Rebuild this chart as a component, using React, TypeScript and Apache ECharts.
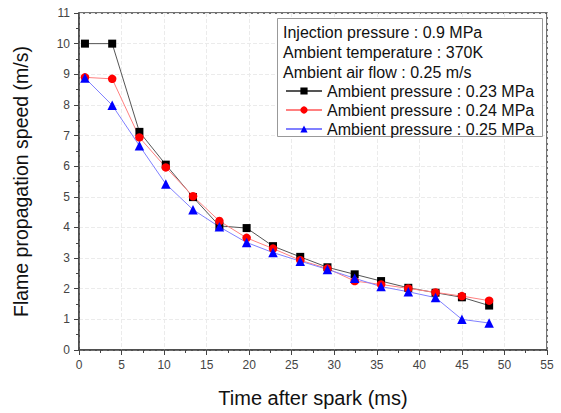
import React, { useEffect, useRef } from "react";
import * as echarts from "echarts";

const timeMs = [0.7, 3.9, 7.1, 10.2, 13.4, 16.5, 19.7, 22.8, 26.0, 29.2, 32.4, 35.5, 38.7, 41.9, 45.0, 48.2];
const speed023 = [10.0, 10.0, 7.12, 6.05, 4.99, 4.05, 3.98, 3.39, 3.04, 2.7, 2.47, 2.25, 2.03, 1.87, 1.72, 1.45];
const speed024 = [8.9, 8.85, 6.94, 5.96, 5.02, 4.21, 3.66, 3.31, 2.93, 2.66, 2.25, 2.14, 2.01, 1.88, 1.76, 1.61];
const speed025 = [8.88, 7.99, 6.67, 5.42, 4.58, 4.02, 3.51, 3.18, 2.9, 2.63, 2.34, 2.07, 1.9, 1.71, 1.0, 0.88];
const seriesNames = ["Ambient pressure : 0.23 MPa", "Ambient pressure : 0.24 MPa", "Ambient pressure : 0.25 MPa"];
const infoLines = ["Injection pressure : 0.9 MPa", "Ambient temperature : 370K", "Ambient air flow : 0.25 m/s"];

const FONT = "'Liberation Sans', Arial, sans-serif";

export default function App() {
  const ref = useRef<HTMLDivElement>(null);
  useEffect(() => {
    if (!ref.current) return;
    const chart = echarts.init(ref.current, undefined, { renderer: "svg" });
    const pair = (ys: number[]) => timeMs.map((x, i) => [x, ys[i]]);
    const mk = (name: string, ys: number[], symbol: string, size: number, mColor: string, lColor: string) => ({
      name,
      type: "line",
      data: pair(ys),
      symbol,
      symbolSize: size,
      showSymbol: true,
      itemStyle: { color: mColor },
      lineStyle: { color: lColor, width: 1 },
      z: 2,
    });
    chart.setOption({
      animation: false,
      backgroundColor: "#fff",
      textStyle: { fontFamily: FONT },
      grid: {
        left: 79,
        right: 14,
        top: 13,
        bottom: 61,
        show: true,
        borderColor: "#444",
        borderWidth: 1.5,
        backgroundColor: "transparent",
      },
      xAxis: {
        type: "value",
        min: 0,
        max: 55,
        interval: 5,
        name: "Time after spark (ms)",
        nameLocation: "middle",
        nameGap: 38,
        nameTextStyle: { fontSize: 20, color: "#111", fontFamily: FONT },
        axisLine: { show: true, lineStyle: { color: "#444", width: 1.5 } },
        axisTick: { show: true, length: 5, lineStyle: { color: "#444" } },
        minorTick: { show: true, splitNumber: 2, length: 3, lineStyle: { color: "#444" } },
        axisLabel: { fontSize: 12, color: "#444", margin: 9, fontFamily: FONT },
        splitLine: { show: true, lineStyle: { color: "#ebebeb", type: "dashed", width: 1 } },
      },
      yAxis: {
        type: "value",
        min: 0,
        max: 11,
        interval: 1,
        name: "Flame propagation speed (m/s)",
        nameLocation: "middle",
        nameGap: 48,
        nameTextStyle: { fontSize: 19.5, color: "#111", fontFamily: FONT },
        axisLine: { show: true, lineStyle: { color: "#444", width: 1.5 } },
        axisTick: { show: true, length: 5, lineStyle: { color: "#444" } },
        minorTick: { show: true, splitNumber: 2, length: 3, lineStyle: { color: "#444" } },
        axisLabel: { fontSize: 12, color: "#444", margin: 9, fontFamily: FONT },
        splitLine: { show: true, lineStyle: { color: "#ebebeb", type: "dashed", width: 1 } },
      },
      legend: {
        orient: "vertical",
        left: 280,
        top: 76.5,
        itemWidth: 36,
        itemHeight: 9,
        itemGap: 0,
        z: 10,
        data: seriesNames,
        textStyle: { fontSize: 16, color: "#111", lineHeight: 19, fontFamily: FONT },
      },
      graphic: [
        {
          type: "rect",
          z: 5,
          shape: { x: 277.5, y: 18.5, width: 265, height: 118 },
          style: { fill: "#fff", stroke: "#999", lineWidth: 1 },
        },
        ...infoLines.map((t, i) => ({
          type: "text",
          z: 6,
          x: 283,
          y: 32 + i * 20,
          style: {
            text: t,
            fontSize: 16,
            fontFamily: FONT,
            fill: "#111",
            textVerticalAlign: "middle",
            verticalAlign: "middle",
          },
        })),
      ],
      series: [
        mk(seriesNames[0], speed023, "rect", 8, "#000", "#555"),
        mk(seriesNames[1], speed024, "circle", 8.5, "#ff0000", "#ff8080"),
        mk(seriesNames[2], speed025, "triangle", 9.5, "#0000ff", "#8080ff"),
      ],
    });
    return () => chart.dispose();
  }, []);
  return (
    <div
      ref={ref}
      style={{ position: "fixed", left: 0, top: 0, width: 561, height: 413 }}
    />
  );
}
